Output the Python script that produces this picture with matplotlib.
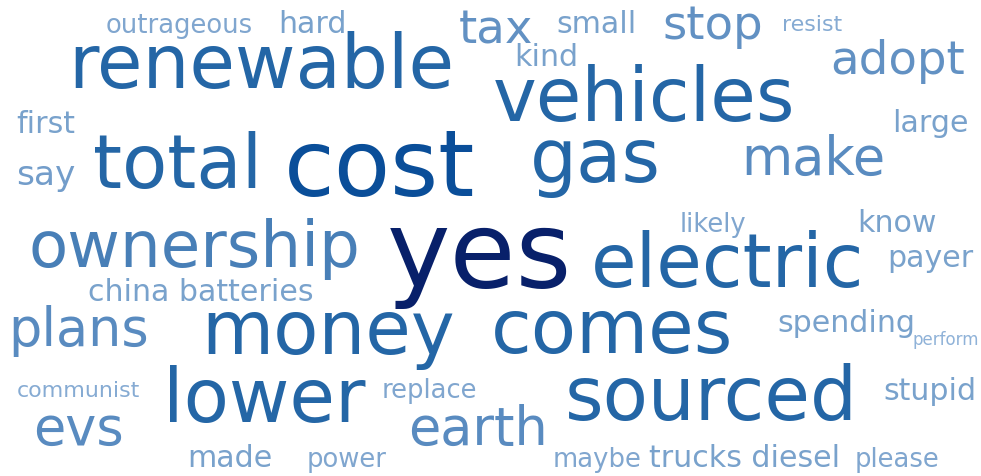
import matplotlib
matplotlib.use("Agg")
import matplotlib.pyplot as plt
from matplotlib.colors import LinearSegmentedColormap, Normalize

# word frequencies (relative weights read from the cloud)
words = ["yes", "cost", "renewable", "total", "vehicles", "gas", "electric",
         "comes", "sourced", "money", "lower", "ownership", "make", "plans",
         "earth", "evs", "tax", "stop", "adopt", "say", "hard", "first",
         "small", "kind", "large", "know", "payer", "spending", "stupid",
         "trucks diesel", "china batteries", "made", "outrageous", "likely",
         "maybe", "please", "replace", "power", "resist", "communist", "perform"]
freqs = [29.0, 24.9, 20.0, 20.0, 20.0, 20.0, 20.0,
         20.0, 20.0, 20.0, 20.0, 17.4, 14.2, 14.2,
         14.2, 14.2, 12.6, 12.6, 12.6, 9.3, 8.1, 8.1,
         8.1, 8.1, 8.1, 8.1, 8.1, 8.1, 8.1,
         8.1, 8.1, 8.1, 7.0, 7.0,
         7.0, 7.0, 7.0, 7.0, 6.0, 6.0, 4.5]

# where each word sits in the cloud (left edge, baseline) in pixels
layout = [(390, 287), (287, 196), (70, 88), (95, 188), (495, 121), (532, 182), (593, 287),
          (493, 353), (567, 420), (203, 354), (165, 422), (30, 267), (743, 175), (10, 346),
          (410, 445), (35, 445), (460, 43), (664, 39), (832, 74), (17, 185), (279, 33), (17, 133),
          (557, 33), (515, 66), (893, 132), (858, 232), (888, 267), (778, 332), (884, 400),
          (650, 467), (89, 301), (188, 467), (106, 33), (680, 232),
          (553, 467), (855, 467), (382, 398), (307, 467), (783, 31), (17, 397), (913, 345)]

W, H = 981, 477
PX_PER_FREQ = 3.7

cmap = LinearSegmentedColormap.from_list("cloud", [
    (0.0, "#8fb2d8"), (0.14, "#7aa2cc"), (0.32, "#6392c4"), (0.39, "#5a8cc0"),
    (0.52, "#4a80b8"), (0.63, "#2466a6"), (0.83, "#0a4f9a"), (1.0, "#08206a")])
norm = Normalize(vmin=min(freqs), vmax=max(freqs))

fig = plt.figure(figsize=(W / 100, H / 100), dpi=100)
ax = fig.add_axes([0, 0, 1, 1])
ax.set_xlim(0, W)
ax.set_ylim(H, 0)
ax.axis("off")

for word, f, (x, y) in zip(words, freqs, layout):
    em = f * PX_PER_FREQ
    # pull back by the glyph side bearing so the ink starts at x
    ax.text(x - 0.03 * em, y, word, fontsize=em * 72 / 100, family="DejaVu Sans",
            color=cmap(norm(f)), ha="left", va="baseline")

fig.savefig("out.png", dpi=100, facecolor="white")
